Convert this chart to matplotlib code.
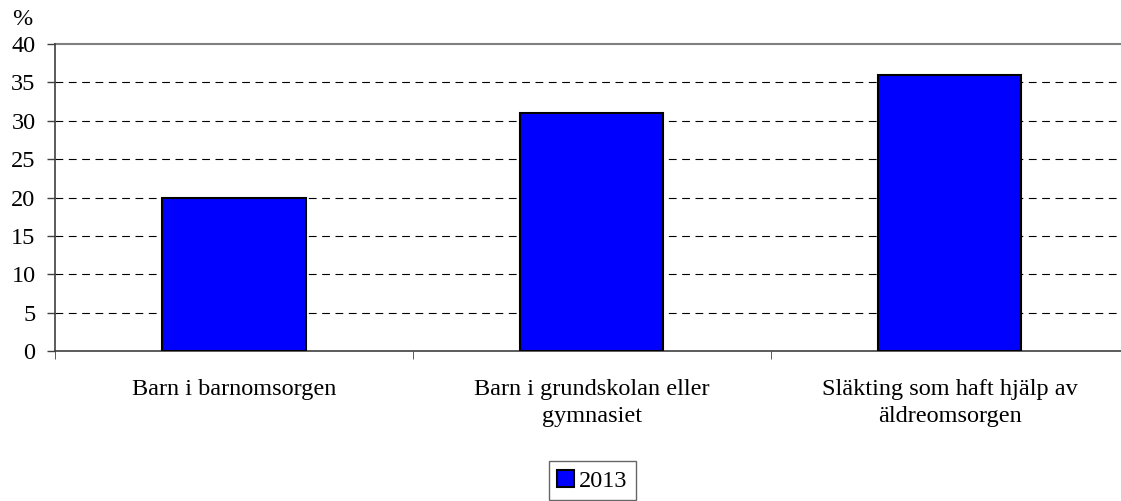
import matplotlib
matplotlib.use("Agg")
import matplotlib.pyplot as plt
import numpy as np

categories = ["Barn i barnomsorgen", "Barn i grundskolan eller\ngymnasiet",
              "Släkting som haft hjälp av\näldreomsorgen"]
values_2013 = [20, 31, 36]
yticks = [0, 5, 10, 15, 20, 25, 30, 35, 40]
series_label = "2013"

plt.rcParams['font.family'] = ['Liberation Serif', 'DejaVu Serif']

FS = 17.5
fig = plt.figure(figsize=(11.21, 5.01), dpi=100)
ax = fig.add_axes([0.049, 0.2994, 0.958, 0.6126])

x = np.arange(len(categories))
ax.bar(x, values_2013, width=0.40, color="#0000FF", edgecolor="black",
       linewidth=1.5, label=series_label, zorder=3)

ax.set_xlim(-0.5, len(categories) - 0.5)
ax.set_ylim(0, 40)
ax.set_yticks(yticks)
ax.set_yticklabels([str(v) for v in yticks], fontsize=FS)

for v in yticks[1:-1]:
    ax.axhline(v, color="black", linestyle=(0, (7, 5)), linewidth=0.8, zorder=1)
ax.axhline(40, color="#808080", linewidth=1.5, zorder=1, clip_on=False)

ax.set_xticks(x)
ax.set_xticklabels(categories, fontsize=FS, linespacing=1.4)
ax.tick_params(axis='x', length=0, pad=20)
ax.set_xticks(np.arange(len(categories) + 1) - 0.5, minor=True)
ax.tick_params(axis='x', which='minor', length=6, color="#404040", direction='out')
ax.tick_params(axis='y', length=6, color="#404040", width=1, pad=8)

for s in ['top', 'right']:
    ax.spines[s].set_visible(False)
ax.spines['left'].set_color("#404040")
ax.spines['bottom'].set_color("#404040")
ax.spines['left'].set_linewidth(1.2)
ax.spines['bottom'].set_linewidth(1.2)

fig.text(0.011, 0.950, "%", fontsize=FS, ha='left', va='baseline')

leg = fig.legend(loc='center', bbox_to_anchor=(0.5285, 0.040), fontsize=FS,
                 frameon=True, fancybox=False, edgecolor="#404040",
                 handlelength=0.7, handleheight=0.7, handletextpad=0.2,
                 borderpad=0.35, borderaxespad=0)
leg.get_frame().set_linewidth(1.0)

fig.savefig("out.png", dpi=100)
